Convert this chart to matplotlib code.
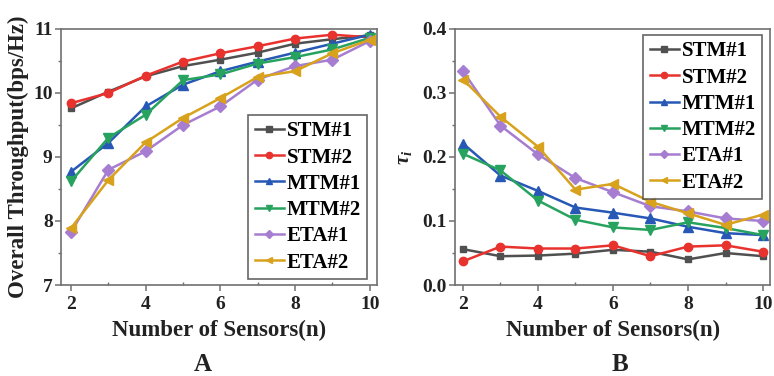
import matplotlib
matplotlib.use("Agg")
import matplotlib.pyplot as plt
from matplotlib.ticker import MultipleLocator, FormatStrFormatter

plt.rcParams['font.family'] = ['Liberation Serif', 'DejaVu Serif']
plt.rcParams['font.weight'] = 'bold'
plt.rcParams['mathtext.fontset'] = 'custom'
plt.rcParams['mathtext.rm'] = 'Liberation Serif'
plt.rcParams['mathtext.it'] = 'Liberation Serif:italic'

sensors = [2, 3, 4, 5, 6, 7, 8, 9, 10]
series_names = ["STM#1", "STM#2", "MTM#1", "MTM#2", "ETA#1", "ETA#2"]

throughput_stm1 = [9.76, 10.02, 10.26, 10.42, 10.52, 10.63, 10.77, 10.84, 10.90]
throughput_stm2 = [9.84, 10.00, 10.27, 10.49, 10.62, 10.73, 10.85, 10.91, 10.87]
throughput_mtm1 = [8.77, 9.22, 9.79, 10.13, 10.34, 10.49, 10.63, 10.77, 10.91]
throughput_mtm2 = [8.62, 9.30, 9.66, 10.20, 10.29, 10.46, 10.56, 10.68, 10.86]
throughput_eta1 = [7.83, 8.80, 9.09, 9.50, 9.79, 10.21, 10.42, 10.52, 10.81]
throughput_eta2 = [7.89, 8.64, 9.23, 9.61, 9.92, 10.25, 10.34, 10.62, 10.83]

tau_stm1 = [0.056, 0.045, 0.046, 0.049, 0.055, 0.052, 0.040, 0.050, 0.045]
tau_stm2 = [0.037, 0.060, 0.057, 0.057, 0.062, 0.045, 0.060, 0.062, 0.052]
tau_mtm1 = [0.221, 0.171, 0.147, 0.121, 0.113, 0.104, 0.091, 0.081, 0.078]
tau_mtm2 = [0.205, 0.179, 0.132, 0.102, 0.090, 0.086, 0.098, 0.089, 0.078]
tau_eta1 = [0.334, 0.249, 0.204, 0.167, 0.145, 0.123, 0.115, 0.104, 0.100]
tau_eta2 = [0.321, 0.263, 0.216, 0.149, 0.158, 0.130, 0.112, 0.094, 0.110]

colors = ['#505050', '#e8322e', '#2758b5', '#27a35f', '#a67dd0', '#d8a21c']
markers = ['s', 'o', '^', 'v', 'D', '<']
msizes = [5, 6, 6.5, 6.5, 6, 6.5]

fig = plt.figure(figsize=(7.74, 3.76), dpi=100)
ax1 = fig.add_axes([0.0788, 0.242, 0.408, 0.681])
ax2 = fig.add_axes([0.588, 0.242, 0.407, 0.681])

def style(ax):
    for s in ax.spines.values():
        s.set_color('#707070')
        s.set_linewidth(1.2)
    ax.xaxis.set_major_locator(MultipleLocator(2))
    ax.xaxis.set_minor_locator(MultipleLocator(1))
    ax.tick_params(axis='both', which='major', direction='out', length=4, width=1.1,
                   colors='#707070', labelcolor='#222222', labelsize=14, pad=2)
    ax.tick_params(axis='x', which='major', pad=4)
    ax.tick_params(axis='x', which='minor', direction='in', length=2.5, width=1.0, colors='#707070')
    ax.tick_params(axis='y', which='minor', direction='out', length=2.5, width=1.0, colors='#707070')
    for lab in ax.get_xticklabels() + ax.get_yticklabels():
        lab.set_fontweight('bold')

data1 = [throughput_stm1, throughput_stm2, throughput_mtm1, throughput_mtm2, throughput_eta1, throughput_eta2]
data2 = [tau_stm1, tau_stm2, tau_mtm1, tau_mtm2, tau_eta1, tau_eta2]

for name, y, c, m, ms in zip(series_names, data1, colors, markers, msizes):
    ax1.plot(sensors, y, color=c, marker=m, markersize=ms, linewidth=1.8, label=name)
for name, y, c, m, ms in zip(series_names, data2, colors, markers, msizes):
    ax2.plot(sensors, y, color=c, marker=m, markersize=ms, linewidth=1.8, label=name)

ax1.set_xlim(1.73, 10.19)
ax1.set_ylim(7, 11)
ax1.yaxis.set_major_locator(MultipleLocator(1))
ax1.yaxis.set_minor_locator(MultipleLocator(0.5))
ax2.set_xlim(1.79, 10.19)
ax2.set_ylim(0, 0.4)
ax2.yaxis.set_major_locator(MultipleLocator(0.1))
ax2.yaxis.set_minor_locator(MultipleLocator(0.05))
ax2.yaxis.set_major_formatter(FormatStrFormatter('%.1f'))
style(ax1)
style(ax2)

ax1.set_ylabel('Overall Throughput(bps/Hz)', fontsize=16.5, fontweight='bold', color='#222222', labelpad=3)
ax1.set_xlabel('Number of Sensors(n)', fontsize=16.5, fontweight='bold', color='#222222', labelpad=5)
ax2.set_ylabel(r'$\tau_i$', fontsize=15, color='#222222', labelpad=6)
ax2.set_xlabel('Number of Sensors(n)', fontsize=16.5, fontweight='bold', color='#222222', labelpad=5)

fig.text(0.262, 0.014, 'A', fontsize=18, fontweight='bold', ha='center', color='#222222')
fig.text(0.801, 0.014, 'B', fontsize=18, fontweight='bold', ha='center', color='#222222')

leg_kw = dict(prop={'weight': 'bold', 'size': 15}, frameon=True, fancybox=False,
              edgecolor='#404040', handlelength=1.4, handletextpad=0.15, labelspacing=0.3,
              borderpad=0.3, borderaxespad=0.3, markerscale=0.75)
l1 = ax1.legend(loc='lower right', bbox_to_anchor=(0.99, 0.0), **leg_kw)
l2 = ax2.legend(loc='upper right', bbox_to_anchor=(0.995, 1.0), **leg_kw)
for l in (l1, l2):
    l.get_frame().set_linewidth(1.2)

fig.savefig('out.png', dpi=100)
